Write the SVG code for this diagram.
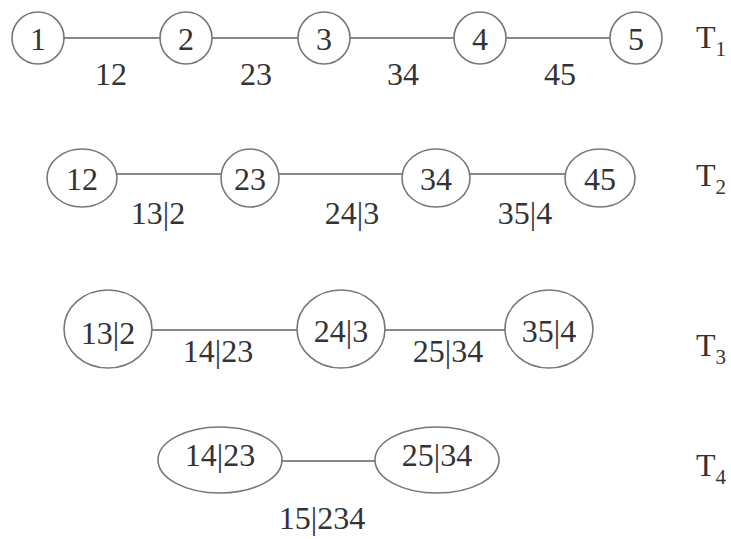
<svg xmlns="http://www.w3.org/2000/svg" width="731" height="539" viewBox="0 0 731 539">
<style>
.n{fill:#fff;stroke:#777;stroke-width:1.6}
.e{stroke:#888;stroke-width:1.8;fill:none}
.t{text-anchor:start}
.s{font-size:21px}
</style>
<rect width="731" height="539" fill="#fff"/>
<g id="connectors">
<line class="e" x1="64" y1="38" x2="160" y2="38"/>
<line class="e" x1="212" y1="38" x2="298" y2="38"/>
<line class="e" x1="350" y1="38" x2="454" y2="38"/>
<line class="e" x1="506" y1="38" x2="610" y2="38"/>
<line class="e" x1="117" y1="174" x2="221" y2="174"/>
<line class="e" x1="279" y1="174" x2="402" y2="174"/>
<line class="e" x1="470" y1="174" x2="565" y2="174"/>
<line class="e" x1="152" y1="330" x2="297" y2="330"/>
<line class="e" x1="385" y1="330" x2="505" y2="330"/>
<line class="e" x1="282" y1="461" x2="375" y2="461"/>
</g>
<g font-family="'Liberation Serif','Times New Roman','DejaVu Serif',serif" font-size="32" fill="#333" text-anchor="middle">
<g id="edge-labels">
<text x="111" y="85">12</text>
<text x="256" y="85">23</text>
<text x="403" y="85">34</text>
<text x="560" y="85">45</text>
<text x="158" y="224">13|2</text>
<text x="352" y="224">24|3</text>
<text x="525" y="224">35|4</text>
<text x="218" y="362">14|23</text>
<text x="448" y="362">25|34</text>
<text x="322" y="529">15|234</text>
</g>
<g id="T1-n1"><ellipse class="n" cx="38" cy="38" rx="26" ry="26"/><text x="38" y="50">1</text></g>
<g id="T1-n2"><ellipse class="n" cx="186" cy="38" rx="26" ry="26"/><text x="186" y="50">2</text></g>
<g id="T1-n3"><ellipse class="n" cx="324" cy="38" rx="26" ry="26"/><text x="324" y="50">3</text></g>
<g id="T1-n4"><ellipse class="n" cx="480" cy="38" rx="26" ry="26"/><text x="480" y="50">4</text></g>
<g id="T1-n5"><ellipse class="n" cx="636" cy="38" rx="26" ry="26"/><text x="636" y="50">5</text></g>
<g id="T2-n12"><ellipse class="n" cx="82" cy="178" rx="35" ry="29"/><text x="82" y="190">12</text></g>
<g id="T2-n23"><ellipse class="n" cx="250" cy="178" rx="29" ry="29"/><text x="250" y="190">23</text></g>
<g id="T2-n34"><ellipse class="n" cx="436" cy="178" rx="34" ry="29"/><text x="436" y="190">34</text></g>
<g id="T2-n45"><ellipse class="n" cx="600" cy="178" rx="35" ry="29"/><text x="600" y="190">45</text></g>
<g id="T3-n132"><ellipse class="n" cx="108" cy="329" rx="44" ry="39"/><text x="108" y="344">13|2</text></g>
<g id="T3-n243"><ellipse class="n" cx="341" cy="329" rx="44" ry="39"/><text x="341" y="342">24|3</text></g>
<g id="T3-n354"><ellipse class="n" cx="549" cy="329" rx="44" ry="39"/><text x="549" y="342">35|4</text></g>
<g id="T4-n1423"><ellipse class="n" cx="220" cy="460" rx="62" ry="33"/><text x="220" y="466">14|23</text></g>
<g id="T4-n2534"><ellipse class="n" cx="437" cy="460" rx="62" ry="33"/><text x="437" y="466">25|34</text></g>
<g id="tree-labels">
<text class="t" x="696" y="48">T<tspan class="s" dy="8">1</tspan></text>
<text class="t" x="696" y="186">T<tspan class="s" dy="8">2</tspan></text>
<text class="t" x="696" y="356">T<tspan class="s" dy="8">3</tspan></text>
<text class="t" x="696" y="476">T<tspan class="s" dy="8">4</tspan></text>
</g>
</g>
</svg>
